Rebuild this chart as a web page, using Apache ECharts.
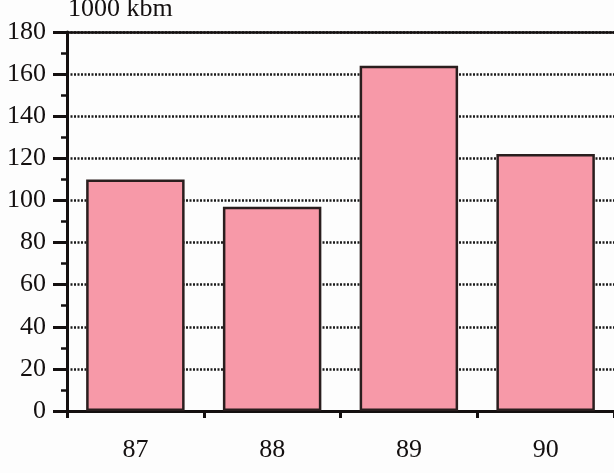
<!DOCTYPE html>
<html>
<head>
<meta charset="utf-8">
<script src="https://cdn.jsdelivr.net/npm/echarts@6/dist/echarts.min.js"></script>
<style>
  html, body { margin: 0; padding: 0; background: #fdfdfd; }
  #chart { width: 614px; height: 473px; }
</style>
</head>
<body>
<div id="chart"></div>
<script>
// Årgang og volum (1000 kbm)
const years = ['87', '88', '89', '90'];
const volumes = [110, 97, 164, 122];
const unitLabel = '1000 kbm';

const serif = '"Liberation Serif", "DejaVu Serif", serif';
const ink = '#141010';

const chart = echarts.init(document.getElementById('chart'));

chart.setOption({
  animation: false,
  backgroundColor: '#fdfdfd',
  grid: { left: 67, right: -5, top: 32, bottom: 62 },
  graphic: [
    {
      type: 'text',
      left: 68,
      top: -4,
      style: { text: unitLabel, font: '26px ' + serif, fill: ink }
    }
  ],
  xAxis: [
    {
      type: 'category',
      data: years,
      axisLine: { lineStyle: { color: ink, width: 3 } },
      axisTick: { show: true, alignWithLabel: false, length: 7, lineStyle: { color: ink, width: 3 } },
      axisLabel: { margin: 26, fontSize: 26, fontFamily: serif, color: ink }
    },
    {
      type: 'category',
      data: years,
      position: 'top',
      axisLine: { lineStyle: { color: ink, width: 2.5 } },
      axisTick: { show: false },
      axisLabel: { show: false }
    }
  ],
  yAxis: {
    type: 'value',
    min: 0,
    max: 180,
    interval: 20,
    axisLine: { show: true, lineStyle: { color: ink, width: 3 } },
    axisTick: { show: true, length: 14, lineStyle: { color: ink, width: 3 } },
    minorTick: { show: true, splitNumber: 2, length: 6, lineStyle: { color: ink, width: 2.5 } },
    axisLabel: { margin: 21, fontSize: 26, fontFamily: serif, color: ink },
    splitLine: { show: true, lineStyle: { color: '#1a1a1a', width: 2.5, type: [2, 1.5] } }
  },
  series: [
    {
      type: 'bar',
      data: volumes,
      barCategoryGap: '28%',
      itemStyle: { color: '#f799a8', borderColor: '#2a1e1e', borderWidth: 2.5 }
    }
  ]
});
</script>
</body>
</html>
